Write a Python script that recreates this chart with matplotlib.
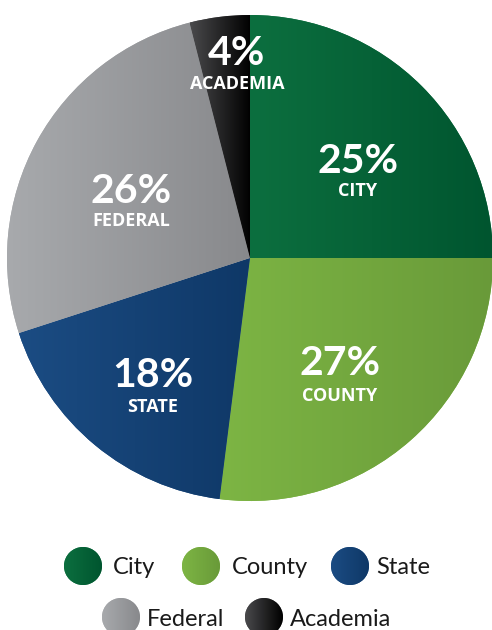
import matplotlib
matplotlib.use("Agg")
import matplotlib.pyplot as plt
import numpy as np
from matplotlib.colors import LinearSegmentedColormap
from matplotlib.patches import Circle

categories = ["City", "County", "State", "Federal", "Academia"]
shares = [25, 27, 18, 26, 4]
slice_labels = ["CITY", "COUNTY", "STATE", "FEDERAL", "ACADEMIA"]

# style
grad_left = ["#0c6f3f", "#7db544", "#1b4c83", "#a8aaad", "#4a4a4c"]
grad_right = ["#00552f", "#699a39", "#0f3867", "#88898c", "#000000"]
# label anchors in pixel coords (x, baseline of %, baseline of name)
label_anchor = [(358, 173, 196), (340, 375, 401), (153, 387, 412),
                (131, 203, 226), (237, 65, 89)]

W, H = 492, 630
fig = plt.figure(figsize=(W / 100, H / 100), dpi=100)
ax = fig.add_axes([0, 0, 1, 1])
cx, cy, R = 250, H - 258, 243

wedges, _ = ax.pie(shares, startangle=90, counterclock=False,
                   center=(cx, cy), radius=R, colors=grad_left,
                   wedgeprops=dict(linewidth=0))
ax.set_aspect("equal")
ax.axis("off")

grad = np.linspace(0, 1, 256).reshape(1, -1)
for i, w in enumerate(wedges):
    verts = w.get_path().vertices
    x0, x1 = verts[:, 0].min(), verts[:, 0].max()
    y0, y1 = verts[:, 1].min(), verts[:, 1].max()
    cmap = LinearSegmentedColormap.from_list(f"g{i}", [grad_left[i], grad_right[i]])
    im = ax.imshow(grad, cmap=cmap, extent=(x0, x1, y0, y1), aspect="auto",
                   interpolation="bicubic", zorder=2)
    im.set_clip_path(w)

    lx, py, ny = label_anchor[i]
    ax.text(lx, H - py, f"{shares[i]}%", color="white", fontsize=29.5,
            fontweight="bold", family="Lato", ha="center", va="baseline", zorder=5)
    ax.text(lx, H - ny, slice_labels[i], color="white", fontsize=13,
            fontweight="bold", family="Open Sans", ha="center", va="baseline",
            zorder=5)

# legend (manual, centered rows)
leg_pos = [(83, 566, 113), (201, 566, 232), (350, 566, 376),
           (121, 617, 147), (264, 617, 290)]
cr = 19
for k, (x, yy, tx) in enumerate(leg_pos):
    y = H - yy
    c = Circle((x, y), cr, linewidth=0, facecolor=grad_left[k], zorder=3)
    ax.add_patch(c)
    cmap = LinearSegmentedColormap.from_list(f"l{k}", [grad_left[k], grad_right[k]])
    im = ax.imshow(grad, cmap=cmap, extent=(x - cr, x + cr, y - cr, y + cr),
                   aspect="auto", interpolation="bicubic", zorder=4)
    im.set_clip_path(c)
    ax.text(tx, y - 8.5, categories[k], fontsize=17, family="Lato",
            color="#1a1a1a", ha="left", va="baseline", zorder=5)

ax.set_xlim(0, W)
ax.set_ylim(0, H)
fig.savefig("out.png", dpi=100)
